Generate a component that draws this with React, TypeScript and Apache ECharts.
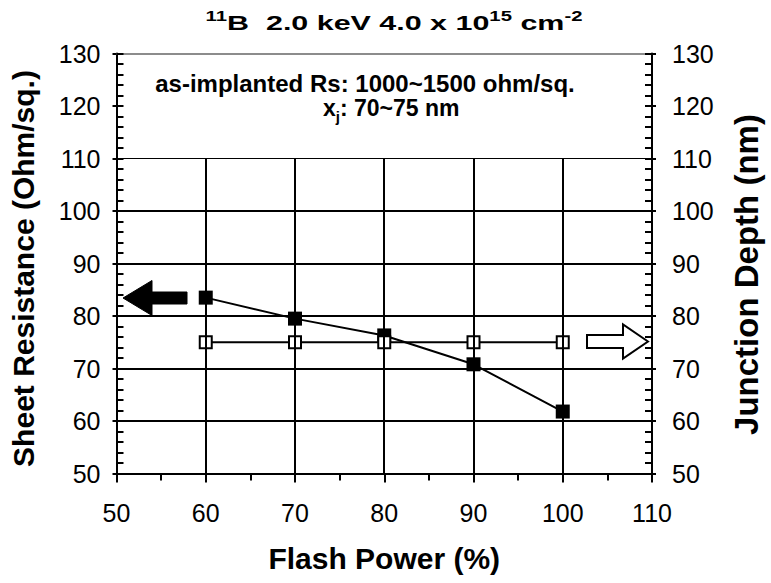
import React, { useEffect, useRef } from "react";
import * as echarts from "echarts";

const flashPower = [60, 70, 80, 90, 100];
const sheetResistance = [83.5, 79.5, 76.3, 70.8, 61.8];
const junctionDepth = [75, 75, 75, 75, 75];
const horizontalGrid = [50, 60, 70, 80, 90, 100];
const boxEdge = 110;
const verticalGrid = [60, 70, 80, 90, 100];
const xRange = [50, 110];
const yRange = [50, 130];

const FONT = "Liberation Sans";

export default function App() {
  const ref = useRef<HTMLDivElement>(null);
  useEffect(() => {
    if (!ref.current) return;
    const chart = echarts.init(ref.current, null, { renderer: "svg" });

    const valueAxisBase = {
      type: "value",
      splitLine: { show: false },
    };

    const yLeft = {
      ...valueAxisBase,
      position: "left",
      min: yRange[0],
      max: yRange[1],
      interval: 10,
      axisLine: { show: true, lineStyle: { color: "#000", width: 2 } },
      axisTick: { show: true, inside: true, length: 7, lineStyle: { color: "#000", width: 2 } },
      minorTick: { show: true, splitNumber: 5, length: 7, lineStyle: { color: "#000", width: 2 } },
      axisLabel: { color: "#000", fontSize: 25, fontFamily: FONT, margin: 16 },
      name: "Sheet Resistance (Ohm/sq.)",
      nameLocation: "middle",
      nameRotate: 90,
      nameGap: 78,
      nameTextStyle: { color: "#000", fontSize: 30, fontWeight: "bold", fontFamily: FONT, padding: [0, 10, 0, 0] },
    };
    const yRight = {
      ...yLeft,
      position: "right",
      axisLabel: { color: "#000", fontSize: 25, fontFamily: FONT, margin: 20 },
      name: "Junction Depth (nm)",
      nameGap: 78,
      nameTextStyle: { color: "#000", fontSize: 33, fontWeight: "bold", fontFamily: FONT, padding: [0, 22, 0, 0] },
    };
    const outsideTicks = (pos: string) => ({
      ...valueAxisBase,
      position: pos,
      min: yRange[0],
      max: yRange[1],
      interval: 10,
      axisLine: { show: false },
      axisTick: { show: true, inside: false, length: 4, lineStyle: { color: "#000", width: 2 } },
      axisLabel: { show: false },
    });

    chart.setOption({
      animation: false,
      backgroundColor: "#fff",
      grid: { left: 116.5, right: 115, top: 53.5, bottom: 109.5, containLabel: false },
      xAxis: [
        {
          ...valueAxisBase,
          position: "bottom",
          min: xRange[0],
          max: xRange[1],
          interval: 10,
          axisLine: { show: true, onZero: false, lineStyle: { color: "#000", width: 2 } },
          axisTick: { show: true, inside: false, length: 9, lineStyle: { color: "#000", width: 2 } },
          minorTick: { show: true, splitNumber: 2, length: 7, lineStyle: { color: "#000", width: 2 } },
          axisLabel: { color: "#000", fontSize: 25, fontFamily: FONT, margin: 27 },
          name: "Flash Power (%)",
          nameLocation: "middle",
          nameGap: 70,
          nameTextStyle: { color: "#000", fontSize: 30, fontWeight: "bold", fontFamily: FONT },
        },
        {
          ...valueAxisBase,
          position: "top",
          min: xRange[0],
          max: xRange[1],
          interval: 10,
          axisLine: { show: true, onZero: false, lineStyle: { color: "#8c8c8c", width: 2 } },
          axisTick: { show: false },
          axisLabel: { show: false },
        },
      ],
      yAxis: [yLeft, yRight, outsideTicks("left"), outsideTicks("right")],
      series: [
        {
          type: "line",
          data: [],
          z: 1,
          silent: true,
          markLine: {
            silent: true,
            symbol: "none",
            label: { show: false },
            lineStyle: { color: "#000", width: 2, type: "solid" },
            data: [
              ...horizontalGrid.map((v) => ({ yAxis: v })),
              { yAxis: boxEdge, lineStyle: { width: 1, color: "#000", type: "solid" } },
              ...verticalGrid.map((v) => [{ coord: [v, yRange[0]] }, { coord: [v, boxEdge] }]),
            ],
          },
        },
        {
          type: "line",
          name: "Sheet Resistance",
          xAxisIndex: 0,
          yAxisIndex: 0,
          z: 3,
          data: flashPower.map((x, i) => [x, sheetResistance[i]]),
          symbol: "rect",
          symbolSize: 14,
          showAllSymbol: true,
          itemStyle: { color: "#000" },
          lineStyle: { color: "#000", width: 2 },
        },
        {
          type: "line",
          name: "Junction Depth",
          xAxisIndex: 0,
          yAxisIndex: 1,
          z: 4,
          data: flashPower.map((x, i) => [x, junctionDepth[i]]),
          symbol: "rect",
          symbolSize: 12,
          showAllSymbol: true,
          itemStyle: { color: "#fff", borderColor: "#000", borderWidth: 2 },
          lineStyle: { color: "#000", width: 2 },
        },
      ],
      graphic: [
        {
          type: "text",
          x: 394,
          y: 21,
          scaleX: 1.45,
          scaleY: 1,
          style: {
            text: "{sup|11}{b|B  2.0 keV 4.0 x 10}{sup|15}{b| cm}{sup|-2}",
            align: "center",
            verticalAlign: "middle",
            fill: "#000",
            rich: {
              b: { fontSize: 21, fontWeight: "bold", fontFamily: FONT, lineHeight: 24, verticalAlign: "bottom", fill: "#000" },
              sup: { fontSize: 14, fontWeight: "bold", fontFamily: FONT, lineHeight: 15, verticalAlign: "top", fill: "#000" },
            },
          },
        },
        {
          type: "text",
          x: 365,
          y: 83,
          style: {
            text: "as-implanted Rs: 1000~1500 ohm/sq.",
            align: "center",
            verticalAlign: "middle",
            fill: "#000",
            fontSize: 24,
            fontWeight: "bold",
            fontFamily: FONT,
          },
        },
        {
          type: "text",
          x: 323,
          y: 110,
          style: {
            text: "{m|x}{sub|j}{m|: 70~75 nm}",
            align: "left",
            verticalAlign: "middle",
            fill: "#000",
            rich: {
              m: { fontSize: 23, fontWeight: "bold", fontFamily: FONT, lineHeight: 28, verticalAlign: "top", fill: "#000" },
              sub: { fontSize: 15, fontWeight: "bold", fontFamily: FONT, lineHeight: 16, verticalAlign: "bottom", fill: "#000" },
            },
          },
        },
        {
          type: "polygon",
          shape: {
            points: [
              [123, 298],
              [152, 280.5],
              [152, 292],
              [187, 292],
              [187, 304],
              [152, 304],
              [152, 315.5],
            ],
          },
          style: { fill: "#000", stroke: "#000", lineWidth: 1 },
        },
        {
          type: "polygon",
          shape: {
            points: [
              [648, 341.5],
              [623, 324.5],
              [623, 335],
              [587, 335],
              [587, 348],
              [623, 348],
              [623, 358.5],
            ],
          },
          style: { fill: "#fff", stroke: "#000", lineWidth: 2 },
        },
      ],
    });
    return () => chart.dispose();
  }, []);
  return (
    <div
      ref={ref}
      style={{ position: "absolute", left: 0, top: 0, width: 771, height: 583 }}
    />
  );
}
